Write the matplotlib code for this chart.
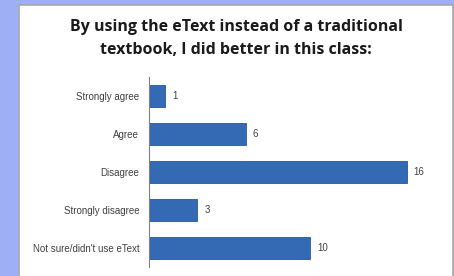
import matplotlib
matplotlib.use("Agg")
import matplotlib.pyplot as plt
from matplotlib.patches import Rectangle

# survey answers, top to bottom
categories = ["Strongly agree", "Agree", "Disagree", "Strongly disagree",
              "Not sure/didn't use eText"]
counts = [1, 6, 16, 3, 10]

W, H = 454, 276
fig = plt.figure(figsize=(W / 100, H / 100), dpi=100)
fig.patch.set_facecolor("#9eaff6")

# white chart panel
panel = Rectangle((19 / W, -0.01), 434 / W, (H - 5) / H + 0.01,
                  transform=fig.transFigure, facecolor="white",
                  edgecolor="#a8a8a8", linewidth=1.2, zorder=-5)
fig.patches.append(panel)

ax = fig.add_axes([149 / W, 1 - 267 / H, 290 / W, 190 / H])
ax.set_zorder(2)
ax.set_facecolor("none")
ypos = list(range(len(categories)))
ax.barh(ypos, counts, height=0.58, color="#3469b3", edgecolor="#2b5796",
        linewidth=0.6)
ax.set_ylim(len(categories) - 0.5, -0.5)
ax.set_xlim(0, 18)
ax.set_yticks(ypos)
ax.set_yticklabels(categories, fontsize=7, color="#404040", family="Liberation Sans")
ax.tick_params(axis="y", length=0, pad=7)
ax.set_xticks([])
for s in ["top", "right", "bottom"]:
    ax.spines[s].set_visible(False)
ax.spines["left"].set_color("#808080")
ax.spines["left"].set_linewidth(0.8)

for y, v in zip(ypos, counts):
    ax.annotate(str(v), (v, y), xytext=(5, 0), textcoords="offset points",
                va="center", ha="left", fontsize=7, color="#404040",
                family="Liberation Sans")

fig.text(236 / W, 1 - 27 / H, "By using the eText instead of a traditional",
         ha="center", va="center", fontsize=11.5, fontweight="bold",
         family="Open Sans", color="#1a1a1a")
fig.text(236 / W, 1 - 50 / H, "textbook, I did better in this class:",
         ha="center", va="center", fontsize=11.5, fontweight="bold",
         family="Open Sans", color="#1a1a1a")

fig.savefig("out.png", dpi=100, facecolor=fig.get_facecolor())
